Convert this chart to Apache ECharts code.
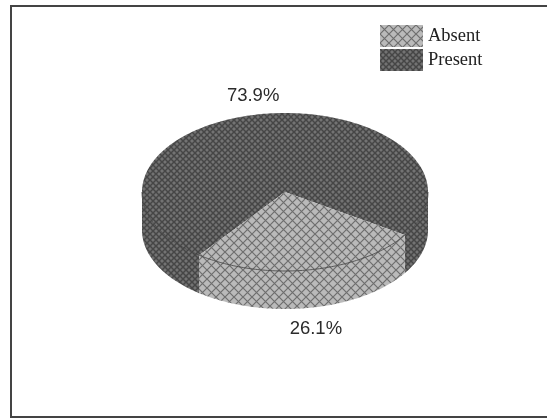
<!DOCTYPE html>
<html>
<head>
<meta charset="utf-8">
<style>html,body{margin:0;padding:0;background:#fff}#c{width:547px;height:418px}</style>
<script src="https://cdn.jsdelivr.net/npm/echarts@6/dist/echarts.min.js"></script>
</head>
<body>
<div id="c"></div>
<script>
// Share of cases by status, in percent
const categories = ['Absent', 'Present'];
const shares = [26.1, 73.9];

// Cross-hatched fill used for a slice and its legend swatch
function hatch(base, line, period, width) {
  const tile = document.createElement('canvas');
  tile.width = tile.height = period;
  const g = tile.getContext('2d');
  g.fillStyle = base;
  g.fillRect(0, 0, period, period);
  g.strokeStyle = line;
  g.lineWidth = width;
  g.beginPath();
  g.moveTo(-1, -1); g.lineTo(period + 1, period + 1);
  g.moveTo(period + 1, -1); g.lineTo(-1, period + 1);
  g.stroke();
  return { image: tile, repeat: 'repeat' };
}
const fills = [hatch('#bababa', '#6e6e6e', 9, 1.2), hatch('#737373', '#464646', 6, 1.5)];

// Disc geometry: top ellipse, wall height, and where the first slice begins
const disc = { cx: 285, cy: 192, rx: 143, ry: 79, depth: 38, start: 33 };

const rad = d => d * Math.PI / 180;
const rimPoint = t => [disc.cx + disc.rx * Math.cos(rad(t)), disc.cy + disc.ry * Math.sin(rad(t))];
const arc = (a, b) => {
  const pts = [], n = Math.max(2, Math.ceil(Math.abs(b - a)));
  for (let i = 0; i <= n; i++) pts.push(rimPoint(a + (b - a) * i / n));
  return pts;
};
const lower = pts => pts.map(p => [p[0], p[1] + disc.depth]);

// Parts of [a, b] that lie on the near half of the disc, where the wall shows
function nearRanges(a, b) {
  const out = [];
  for (const k of [0, 360]) {
    const lo = Math.max(a, k), hi = Math.min(b, k + 180);
    if (hi > lo) out.push([lo, hi]);
  }
  return out;
}

function sliceRange(index) {
  const total = shares.reduce((s, v) => s + v, 0);
  const before = shares.slice(0, index).reduce((s, v) => s + v, 0);
  return [disc.start + 360 * before / total, disc.start + 360 * (before + shares[index]) / total];
}

function renderSlice(params, api) {
  const index = params.seriesIndex;
  const value = api.value(0);
  const [a, b] = sliceRange(index);
  const fill = fills[index];
  const children = [];
  for (const [lo, hi] of nearRanges(a, b)) {
    const rim = arc(lo, hi);
    children.push({
      type: 'polygon',
      shape: { points: rim.concat(lower(rim).reverse()) },
      style: { fill: fill }
    });
  }
  children.push({
    type: 'polygon',
    shape: { points: [[disc.cx, disc.cy]].concat(arc(a, b)) },
    style: { fill: fill }
  });
  for (const [lo, hi] of nearRanges(a, b)) {
    children.push({
      type: 'polyline',
      shape: { points: arc(lo, hi) },
      style: { fill: 'none', stroke: '#3a3a3a', lineWidth: 0.8 }
    });
  }
  // Percentage sits just outside the disc at the slice's middle angle
  const mid = rimPoint((a + b) / 2);
  const below = Math.sin(rad((a + b) / 2)) > 0;
  children.push({
    type: 'text',
    style: {
      x: mid[0] + (below ? 6 : -7),
      y: mid[1] + (below ? disc.depth + 21 : -18),
      text: value + '%',
      font: '18.5px "Liberation Sans", Arial, sans-serif',
      fill: '#2b2b2b',
      align: 'center',
      verticalAlign: 'middle'
    }
  });
  return { type: 'group', children };
}

const chart = echarts.init(document.getElementById('c'), null, { renderer: 'canvas' });
chart.setOption({
  animation: false,
  backgroundColor: '#fff',
  legend: {
    data: categories,
    orient: 'vertical',
    left: 375,
    top: 20,
    itemWidth: 43,
    itemHeight: 22,
    itemGap: 2,
    icon: 'rect',
    textStyle: { fontFamily: '"Liberation Serif", "Times New Roman", serif', fontSize: 18.5, lineHeight: 22, color: '#222' },
    selectedMode: false
  },
  graphic: [{
    type: 'polyline',
    silent: true,
    shape: { points: [[547, 6], [11, 6], [11, 417], [547, 417]] },
    style: { fill: 'none', stroke: '#444', lineWidth: 2 }
  }],
  series: categories.map((name, i) => ({
    type: 'custom',
    name,
    coordinateSystem: 'none',
    renderItem: renderSlice,
    itemStyle: { color: fills[i], borderWidth: 0 },
    data: [[shares[i]]],
    z: i === 0 ? 3 : 2
  }))
});
</script>
</body>
</html>
